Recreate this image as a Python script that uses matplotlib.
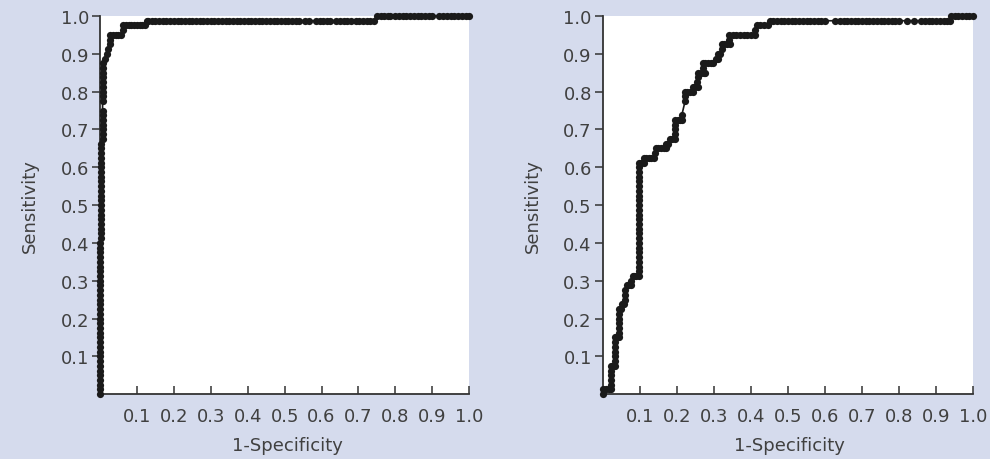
"""
Две ROC-кривые (Sensitivity vs 1-Specificity)
"""
import matplotlib
matplotlib.use('Agg')
import matplotlib.pyplot as plt

# --- данные: левая кривая ---
fpr_left = (
    [0.0] * 33
    + [0.003] * 21
    + [0.007] * 14
    + [0.009, 0.009, 0.013, 0.018, 0.022, 0.027, 0.027, 0.027,
       0.035, 0.043, 0.050, 0.058, 0.063, 0.063,
       0.070, 0.078, 0.085, 0.093, 0.100, 0.108, 0.115, 0.122,
       0.126, 0.130, 0.140, 0.150, 0.160, 0.170, 0.180, 0.190,
       0.200, 0.210, 0.220, 0.230, 0.240, 0.250, 0.260, 0.270, 0.280,
       0.290, 0.300, 0.310, 0.320, 0.330, 0.340, 0.350, 0.360, 0.370,
       0.380, 0.390, 0.400, 0.410, 0.420, 0.430, 0.440,
       0.450, 0.460, 0.470, 0.480, 0.490, 0.500, 0.510, 0.520, 0.530,
       0.540, 0.555, 0.565, 0.585, 0.595, 0.605, 0.615, 0.623,
       0.640, 0.650, 0.660, 0.670, 0.680, 0.692, 0.702, 0.712, 0.722,
       0.732, 0.742,
       0.750, 0.760, 0.770, 0.780, 0.786, 0.800, 0.810, 0.820, 0.830,
       0.840, 0.850, 0.860, 0.870, 0.880, 0.890, 0.900, 0.918, 0.930,
       0.940, 0.950, 0.960, 0.970, 0.980, 0.990, 1.000]
)
tpr_left = (
    [0.0, 0.0125, 0.025, 0.0375, 0.05, 0.0625, 0.075, 0.0875, 0.1,
     0.1125, 0.125, 0.1375, 0.15, 0.1625, 0.175, 0.1875, 0.2, 0.2125,
     0.225, 0.2375, 0.25, 0.2625, 0.275, 0.2875, 0.3, 0.3125, 0.325,
     0.3375, 0.35, 0.3625, 0.375, 0.3875, 0.4]
    + [0.4125, 0.425, 0.4375, 0.45, 0.4625, 0.475, 0.4875, 0.5, 0.5125,
       0.525, 0.5375, 0.55, 0.5625, 0.575, 0.5875, 0.6, 0.6125, 0.625,
       0.6375, 0.65, 0.6625]
    + [0.675, 0.6875, 0.7, 0.7125, 0.725, 0.7375, 0.75, 0.775, 0.7875,
       0.8, 0.8125, 0.825, 0.8375, 0.85]
    + [0.8625, 0.875, 0.8875, 0.9, 0.9125, 0.925, 0.9375, 0.95,
       0.95, 0.95, 0.95, 0.95, 0.9625, 0.975,
       0.975, 0.975, 0.975, 0.975, 0.975, 0.975, 0.975, 0.975]
    + [0.9875] * 61
    + [1.0] * 25
)

# --- данные: правая кривая ---
fpr_right = (
    [0.0, 0.0, 0.008, 0.016, 0.023, 0.023, 0.023, 0.023, 0.023, 0.023,
     0.028, 0.033, 0.033, 0.033, 0.033, 0.033, 0.033, 0.033,
     0.038, 0.044, 0.044, 0.044, 0.044, 0.044, 0.044, 0.044,
     0.050, 0.052, 0.057, 0.060, 0.060, 0.060,
     0.065, 0.070, 0.076, 0.076, 0.080, 0.085, 0.090]
    + [0.097] * 25
    + [0.104, 0.110, 0.110, 0.117, 0.124, 0.131, 0.138, 0.140,
       0.143, 0.150, 0.157, 0.164, 0.170, 0.170, 0.176,
       0.180, 0.187, 0.195, 0.195, 0.195, 0.195,
       0.195, 0.202, 0.209, 0.213, 0.213,
       0.222, 0.222, 0.222, 0.228, 0.234, 0.244,
       0.244, 0.250, 0.256, 0.253, 0.258,
       0.258, 0.265, 0.272, 0.276, 0.270,
       0.270, 0.277, 0.284, 0.291, 0.297, 0.305, 0.310,
       0.310, 0.316, 0.321, 0.321, 0.328, 0.335, 0.342, 0.340,
       0.340, 0.350, 0.360, 0.370, 0.380, 0.390, 0.400, 0.410,
       0.410, 0.415, 0.425, 0.435, 0.445,
       0.450, 0.460, 0.470, 0.480, 0.490, 0.500, 0.510, 0.520, 0.530,
       0.540, 0.550, 0.560, 0.570, 0.580, 0.590, 0.600, 0.627,
       0.640, 0.650, 0.660, 0.670, 0.680,
       0.690, 0.700, 0.710, 0.720, 0.730, 0.740,
       0.750, 0.760, 0.770, 0.780, 0.790, 0.800,
       0.820, 0.840,
       0.860, 0.870, 0.880, 0.890, 0.900, 0.910, 0.920, 0.930, 0.938,
       0.940, 0.950, 0.960, 0.970, 0.980, 0.990, 1.000]
)
tpr_right = (
    [0.0, 0.0125, 0.0125, 0.0125, 0.0125, 0.025, 0.0375, 0.05, 0.0625,
     0.075, 0.075, 0.075, 0.0875, 0.1, 0.1125, 0.125, 0.1375, 0.15,
     0.15, 0.15, 0.1625, 0.175, 0.1875, 0.2, 0.2125, 0.225,
     0.225, 0.2375, 0.2375, 0.25, 0.2625, 0.275,
     0.2875, 0.2875, 0.2875, 0.3, 0.3125, 0.3125, 0.3125]
    + [0.3125, 0.325, 0.3375, 0.35, 0.3625, 0.375, 0.3875, 0.4, 0.4125,
       0.425, 0.4375, 0.45, 0.4625, 0.475, 0.4875, 0.5, 0.5125, 0.525,
       0.5375, 0.55, 0.5625, 0.575, 0.5875, 0.6, 0.6125]
    + [0.6125, 0.6125, 0.625, 0.625, 0.625, 0.625, 0.625, 0.6375,
       0.65, 0.65, 0.65, 0.65, 0.65, 0.6625, 0.6625,
       0.675, 0.675, 0.675, 0.6875, 0.7, 0.7125,
       0.725, 0.725, 0.725, 0.725, 0.7375,
       0.775, 0.7875, 0.8, 0.8, 0.8, 0.8,
       0.8125, 0.8125, 0.8125, 0.825, 0.8375,
       0.85, 0.85, 0.85, 0.85, 0.8625,
       0.875, 0.875, 0.875, 0.875, 0.875, 0.8875, 0.8875,
       0.9, 0.9, 0.9125, 0.925, 0.925, 0.925, 0.925, 0.9375,
       0.95, 0.95, 0.95, 0.95, 0.95, 0.95, 0.95, 0.95,
       0.9625, 0.975, 0.975, 0.975, 0.975]
    + [0.9875] * 45
    + [1.0] * 7
)

ticks = [0.1, 0.2, 0.3, 0.4, 0.5, 0.6, 0.7, 0.8, 0.9, 1.0]
tick_labels = ['0.1', '0.2', '0.3', '0.4', '0.5', '0.6', '0.7', '0.8', '0.9', '1.0']

BG = '#d5dbed'
INK = '#333333'
TXT = '#404040'
DOT = '#1a1a1a'

plt.rcParams['font.family'] = ['DejaVu Sans']

fig = plt.figure(figsize=(9.9, 4.6), dpi=100, facecolor=BG)

panels = [
    (fpr_left, tpr_left, [0.101, 0.141, 0.373, 0.822], 0.507),
    (fpr_right, tpr_right, [0.609, 0.141, 0.374, 0.822], 0.505),
]

for fpr, tpr, pos, xl_center in panels:
    ax = fig.add_axes(pos)
    ax.set_facecolor('white')
    ax.plot(fpr, tpr, color=DOT, lw=1.2, marker='o', markersize=5.2,
            markeredgewidth=0, clip_on=False, zorder=3)

    ax.set_xlim(0, 1)
    ax.set_ylim(0, 1)
    ax.set_xticks(ticks)
    ax.set_xticklabels(tick_labels)
    ax.set_yticks(ticks)
    ax.set_yticklabels(tick_labels)

    for side in ('top', 'right'):
        ax.spines[side].set_visible(False)
    for side in ('left', 'bottom'):
        ax.spines[side].set_color(INK)
        ax.spines[side].set_linewidth(1.3)

    ax.tick_params(axis='x', direction='in', length=6, width=1.1,
                   color=INK, labelcolor=TXT, labelsize=13, pad=9)
    ax.tick_params(axis='y', direction='out', length=6, width=1.1,
                   color=INK, labelcolor=TXT, labelsize=13, pad=2)

    ax.set_xlabel('1-Specificity', fontsize=13, color=TXT)
    ax.set_ylabel('Sensitivity', fontsize=13, color=TXT)
    ax.xaxis.set_label_coords(xl_center, -0.11)
    ax.yaxis.set_label_coords(-0.165, 0.5)

fig.savefig('out.png', dpi=100, facecolor=BG)
